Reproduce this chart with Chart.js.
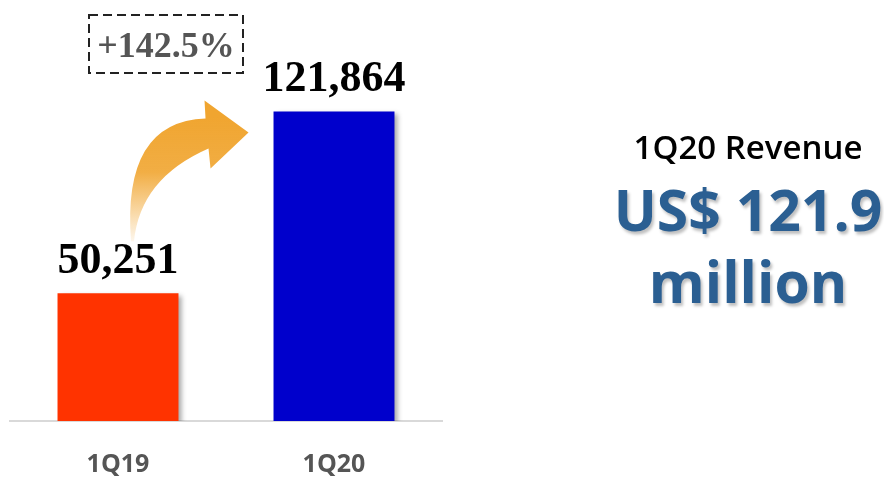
<!DOCTYPE html>
<html>
<head>
<meta charset="utf-8">
<script src="https://cdn.jsdelivr.net/npm/chart.js@4/dist/chart.umd.min.js"></script>
<style>
  html, body { margin: 0; padding: 0; background: #ffffff; }
  #wrap { position: relative; width: 884px; height: 480px; overflow: hidden; }
  #c { position: absolute; left: 0; top: 0; }
  .side { position: absolute; left: 600px; width: 296px; text-align: center; font-family: "Open Sans", sans-serif; }
  #t1 { top: 124px; font-size: 33px; font-weight: 600; color: #000000; }
  #t2 { top: 173px; font-size: 57px; font-weight: 700; color: #2B5F92; text-shadow: 2px 3px 3px rgba(0,0,0,0.25); line-height: 72px; }
</style>
</head>
<body>
<div id="wrap">
  <canvas id="c" width="884" height="480"></canvas>
  <div class="side" id="t1"></div>
  <div class="side" id="t2"></div>
</div>
<script>
const categories = ['1Q19', '1Q20'];
const revenue = [50251, 121864];
const barColors = ['#FF3300', '#0000CC'];
const growthLabel = '+142.5%';
const headline = '1Q20 Revenue';
const headlineValue = ['US$ 121.9', 'million'];

document.getElementById('t1').textContent = headline;
document.getElementById('t2').innerHTML = headlineValue.join('<br>');

const decor = {
  id: 'decor',
  beforeDatasetsDraw(chart) {
    const ctx = chart.ctx;
    const meta = chart.getDatasetMeta(0);
    const b0 = meta.data[0], b1 = meta.data[1];
    const ox = b0.x, oy = b0.y;
    const tx = b1.x - b1.width / 2, ty = b1.y;
    ctx.save();
    const g = ctx.createLinearGradient(0, oy - 53, 0, ty + 5);
    g.addColorStop(0, 'rgba(240,165,48,0.1)');
    g.addColorStop(0.55, 'rgba(240,165,48,0.9)');
    g.addColorStop(1, 'rgba(240,165,48,1)');
    ctx.fillStyle = g;
    ctx.beginPath();
    ctx.moveTo(ox + 13, oy - 52);
    ctx.quadraticCurveTo(ox + 4, oy - 172, tx - 68, ty + 7);
    ctx.lineTo(tx - 69, ty - 11);
    ctx.lineTo(tx - 25, ty + 21);
    ctx.lineTo(tx - 63, ty + 57);
    ctx.lineTo(tx - 65, ty + 37);
    ctx.quadraticCurveTo(ox + 22, oy - 115, ox + 16, oy - 52);
    ctx.closePath();
    ctx.fill();
    ctx.restore();

    const ca = chart.chartArea;
    const bx = ca.left + 79, by = ca.top - 25, bw = 154, bh = 58;
    ctx.save();
    ctx.setLineDash([9, 5]);
    ctx.lineWidth = 2;
    ctx.strokeStyle = '#222222';
    ctx.strokeRect(bx, by, bw, bh);
    ctx.setLineDash([]);
    ctx.fillStyle = '#555555';
    ctx.font = 'bold 36px "Liberation Serif", serif';
    ctx.textAlign = 'center';
    ctx.textBaseline = 'alphabetic';
    ctx.fillText(growthLabel, bx + bw / 2, by + 42);
    ctx.restore();
  },
  beforeDatasetDraw(chart) {
    const ctx = chart.ctx;
    ctx.save();
    ctx.shadowColor = 'rgba(0,0,0,0.35)';
    ctx.shadowBlur = 5;
    ctx.shadowOffsetX = 4;
    ctx.shadowOffsetY = 3;
  },
  afterDatasetDraw(chart) {
    chart.ctx.restore();
  },
  afterDatasetsDraw(chart) {
    const ctx = chart.ctx;
    const meta = chart.getDatasetMeta(0);
    ctx.save();
    ctx.fillStyle = '#000000';
    ctx.font = 'bold 44px "Liberation Serif", serif';
    ctx.textAlign = 'center';
    ctx.textBaseline = 'alphabetic';
    meta.data.forEach((bar, i) => {
      ctx.fillText(revenue[i].toLocaleString('en-US'), bar.x, bar.y - 20);
    });
    ctx.restore();
  }
};

new Chart(document.getElementById('c'), {
  type: 'bar',
  data: {
    labels: categories,
    datasets: [{
      data: revenue,
      backgroundColor: barColors,
      borderWidth: 0,
      categoryPercentage: 0.8,
      barPercentage: 0.7
    }]
  },
  options: {
    responsive: false,
    animation: false,
    events: [],
    layout: { padding: { left: 10, right: 442, top: 40, bottom: 0 } },
    plugins: { legend: { display: false }, tooltip: { enabled: false } },
    scales: {
      x: {
        grid: { display: false },
        border: { display: true, color: '#d9d9d9', width: 2 },
        afterFit(scale) { scale.height = 59; },
        ticks: {
          color: '#555555',
          padding: 21,
          font: { family: '"Open Sans", sans-serif', size: 25, weight: '700' }
        }
      },
      y: {
        display: false,
        min: 0,
        max: 150000
      }
    }
  },
  plugins: [decor]
});
</script>
</body>
</html>
